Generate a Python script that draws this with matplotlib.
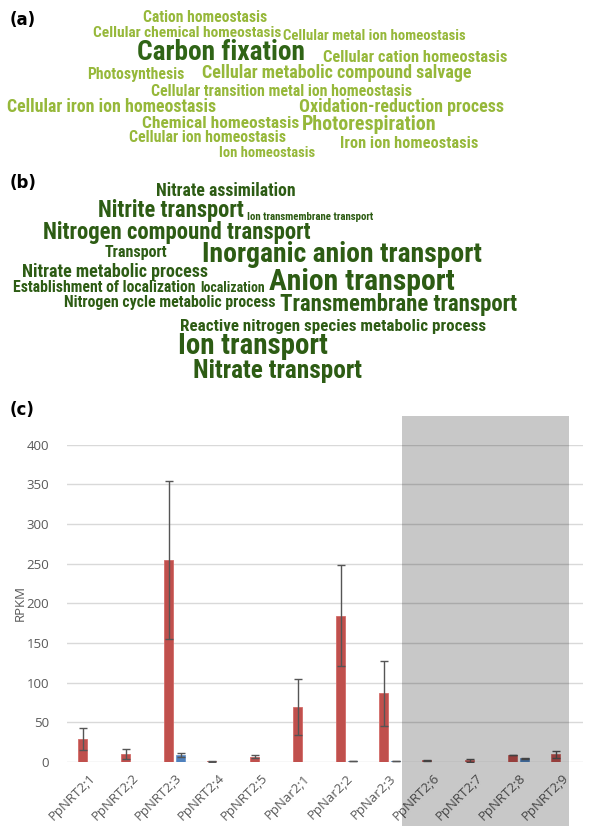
import matplotlib
matplotlib.use("Agg")
import matplotlib.pyplot as plt
from matplotlib.patches import Rectangle
import numpy as np

W, H = 602, 826

# (a) word cloud
words_a = ["Cation homeostasis", "Cellular chemical homeostasis", "Cellular metal ion homeostasis",
           "Carbon fixation", "Cellular cation homeostasis", "Photosynthesis",
           "Cellular metabolic compound salvage", "Cellular transition metal ion homeostasis",
           "Cellular iron ion homeostasis", "Oxidation-reduction process", "Chemical homeostasis",
           "Photorespiration", "Cellular ion homeostasis", "Iron ion homeostasis", "Ion homeostasis"]
# (b) word cloud
words_b = ["Nitrate assimilation", "Nitrite transport", "Ion transmembrane transport",
           "Nitrogen compound transport", "Transport", "Inorganic anion transport",
           "Nitrate metabolic process", "Anion transport", "Establishment of localization",
           "localization", "Nitrogen cycle metabolic process", "Transmembrane transport",
           "Reactive nitrogen species metabolic process", "Ion transport", "Nitrate transport"]

# (c) RPKM
genes = ["PpNRT2;1", "PpNRT2;2", "PpNRT2;3", "PpNRT2;4", "PpNRT2;5", "PpNar2;1",
         "PpNar2;2", "PpNar2;3", "PpNRT2;6", "PpNRT2;7", "PpNRT2;8", "PpNRT2;9"]
red_vals = [28.5, 10, 254.5, 1, 6.7, 69.5, 184.5, 86.5, 2, 2, 8.8, 9.5]
red_err = [14, 6, 100, 0.5, 1.5, 35.5, 64, 41, 1, 2, 0.5, 4.5]
blue_vals = [0, 0, 8.5, 0, 0, 0.3, 1.5, 1, 0, 0, 4.5, 0.3]
blue_err = [0, 0, 2.5, 0, 0, 0, 0.3, 0.3, 0, 0, 0.3, 0]

# layout of the word clouds: (left px, right px, centre y px, colour)
light = "#96b83a"
dark_a = "#2f6416"
dark_b = "#2d5c14"
layout_a = [(143, 267, 18, light), (93, 283, 33, light), (283, 467, 36, light),
            (137, 305, 53, dark_a), (323, 508, 57, light), (87, 184, 75, light),
            (202, 473, 73, light), (151, 413, 91, light), (7, 217, 107, light),
            (299, 505, 107, light), (142, 300, 123, light), (302, 437, 125, light),
            (129, 287, 138, light), (340, 478, 143, light), (219, 316, 153, light)]
layout_b = [(156, 297, 191), (98, 245, 211), (247, 375, 217), (43, 313, 232),
            (105, 168, 253), (202, 482, 255), (22, 209, 272), (269, 455, 282),
            (13, 197, 288), (200, 265, 288), (64, 277, 303), (280, 518, 305),
            (180, 487, 326), (178, 328, 346), (193, 363, 371)]

fig = plt.figure(figsize=(W / 100, H / 100), dpi=100)
renderer = fig.canvas.get_renderer()
cloud_font = ["Roboto Condensed", "DejaVu Sans"]


def fit_word(txt, x0, x1, yc, color):
    t = fig.text(x0 / W, 1 - yc / H, txt, ha="left", va="center", color=color,
                 fontsize=12, fontweight=600, family=cloud_font)
    w = t.get_window_extent(renderer).width
    t.set_fontsize(12 * (x1 - x0) / w)
    return t


for w, (x0, x1, yc, c) in zip(words_a, layout_a):
    fit_word(w, x0, x1, yc, c)
for w, (x0, x1, yc) in zip(words_b, layout_b):
    fit_word(w, x0, x1, yc, dark_b)

for lab, y in [("(a)", 20), ("(b)", 183), ("(c)", 410)]:
    fig.text(10 / W, 1 - y / H, lab, fontsize=12, fontweight="bold", va="center", ha="left")

# (c) bar chart
ax = fig.add_axes([67.2 / W, (H - 762) / H, (583.2 - 67.2) / W, 317.4 / H])
x = np.arange(len(genes))
bw = 0.22
ax.bar(x - 0.14, red_vals, bw, color="#c0504d", edgecolor="#d36b68", linewidth=0.6, zorder=2)
ax.bar(x + 0.14, blue_vals, bw, color="#4f81bd", edgecolor="#6b96cc", linewidth=0.6, zorder=2)

ekw = dict(fmt="none", ecolor="#555555", elinewidth=1, capsize=3, capthick=1, zorder=3)
for off, vals, errs in [(-0.14, red_vals, red_err), (0.14, blue_vals, blue_err)]:
    idx = [i for i, e in enumerate(errs) if e > 0]
    ax.errorbar(x[idx] + off, np.array(vals)[idx], yerr=np.array(errs)[idx], **ekw)

ax.set_xlim(-0.5, len(genes) - 0.5)
ax.set_ylim(0, 400)
ax.set_yticks(np.arange(0, 401, 50))
ax.grid(axis="y", color="#d9d9d9", linewidth=1)
ax.set_axisbelow(True)
for s in ax.spines.values():
    s.set_visible(False)
ax.tick_params(length=0, colors="#595959", labelsize=9.5)
ax.set_xticks(x)
ax.set_xticklabels(genes, rotation=45, ha="right", rotation_mode="anchor", family="Open Sans")
for lbl in ax.get_yticklabels():
    lbl.set_family("Open Sans")
ax.tick_params(axis="x", pad=7)
ax.tick_params(axis="y", pad=13)
ax.set_ylabel("RPKM", color="#595959", fontsize=9.5, family="Open Sans")
ax.yaxis.set_label_coords((27 - 67.2) / 516, 0.5)

# grey overlay over the last four genes
ax.add_patch(Rectangle((7.28, -85), 11.18 - 7.28, 436.4 + 85, facecolor="black", alpha=0.215,
                       edgecolor="none", clip_on=False, zorder=5))

fig.savefig("out.png", dpi=100)
